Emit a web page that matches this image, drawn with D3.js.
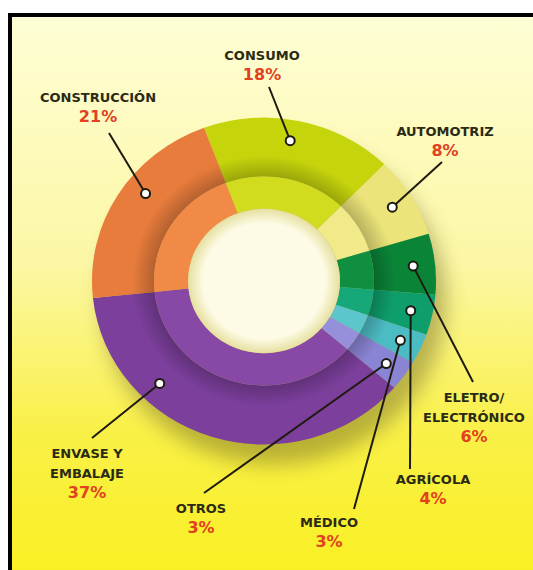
<!DOCTYPE html>
<html>
<head>
<meta charset="utf-8">
<script src="https://cdn.jsdelivr.net/npm/d3@7"></script>
<style>
  body { margin: 0; background: #fff; }
  svg { display: block; }
</style>
</head>
<body>
<script>
"use strict";

// data
var sectors = ["CONSUMO", "AUTOMOTRIZ", "ELETRO/ELECTRÓNICO", "AGRÍCOLA", "MÉDICO", "OTROS", "ENVASE Y EMBALAJE", "CONSTRUCCIÓN"];
var shares  = [18, 8, 6, 4, 3, 3, 37, 21];
var outerColors = ["#c6d40c", "#ece47a", "#0a8538", "#0e9e6c", "#4cbcc4", "#8a84d4", "#7c3f9c", "#e87c3c"];
var innerColors = ["#d2dc1e", "#f2ea88", "#108f40", "#16a878", "#5cc6cc", "#9690da", "#8848a6", "#f08a46"];

// label layout: name lines, text anchor (first baseline), start of leader line, where the dot sits in the slice
var labels = [
  { lines: ["CONSUMO"], x: 262, y: 60, lx: 269, ly: 87, frac: 0.47 },
  { lines: ["AUTOMOTRIZ"], x: 445, y: 136, lx: 442, ly: 162, frac: 0.5 },
  { lines: ["ELETRO/", "ELECTRÓNICO"], x: 474, y: 402, lx: 473, ly: 382, frac: 0.5 },
  { lines: ["AGRÍCOLA"], x: 433, y: 484, lx: 410, ly: 469, frac: 0.5 },
  { lines: ["MÉDICO"], x: 329, y: 527, lx: 354, ly: 509, frac: 0.5 },
  { lines: ["OTROS"], x: 201, y: 513, lx: 204, ly: 493, frac: 0.5 },
  { lines: ["ENVASE Y", "EMBALAJE"], x: 87, y: 458, lx: 92, ly: 438, frac: 0.7 },
  { lines: ["CONSTRUCCIÓN"], x: 98, y: 102, lx: 109, ly: 133, frac: 0.58 }
];

var width = 533, height = 570;
var cx = 264, cy = 281, squash = 0.95;
var rHole = 76, rMid = 110, rOuter = 172, rDot = 150;
var startAngle = -20.4 * Math.PI / 180;

var svg = d3.select("body").append("svg")
    .attr("width", width)
    .attr("height", height);

var defs = svg.append("defs");

var bg = defs.append("linearGradient")
    .attr("id", "bg")
    .attr("x1", 0).attr("y1", 0).attr("x2", 0).attr("y2", 1);
bg.append("stop").attr("offset", "0%").attr("stop-color", "#fefed6");
bg.append("stop").attr("offset", "45%").attr("stop-color", "#fcf7a4");
bg.append("stop").attr("offset", "75%").attr("stop-color", "#f9f048");
bg.append("stop").attr("offset", "100%").attr("stop-color", "#f9f024");

defs.append("filter")
    .attr("id", "blur")
    .attr("x", "-30%").attr("y", "-30%").attr("width", "160%").attr("height", "160%")
  .append("feGaussianBlur")
    .attr("stdDeviation", 10);

// darker edge near the inner side of the outer band
var ringShade = defs.append("radialGradient")
    .attr("id", "ringShade")
    .attr("gradientUnits", "userSpaceOnUse")
    .attr("cx", 0).attr("cy", 0).attr("r", rOuter);
ringShade.append("stop").attr("offset", rMid / rOuter).attr("stop-color", "#000").attr("stop-opacity", 0.22);
ringShade.append("stop").attr("offset", (rMid + 22) / rOuter).attr("stop-color", "#000").attr("stop-opacity", 0);
ringShade.append("stop").attr("offset", "100%").attr("stop-color", "#000").attr("stop-opacity", 0);

var holeShade = defs.append("radialGradient")
    .attr("id", "holeShade")
    .attr("gradientUnits", "userSpaceOnUse")
    .attr("cx", 0).attr("cy", 0).attr("r", rHole);
holeShade.append("stop").attr("offset", "80%").attr("stop-color", "#fdfbe6").attr("stop-opacity", 1);
holeShade.append("stop").attr("offset", "100%").attr("stop-color", "#e6e0a0").attr("stop-opacity", 1);

// frame: yellow panel with black line at top and left
svg.append("rect")
    .attr("x", 10).attr("y", 15)
    .attr("width", width - 10).attr("height", height - 15)
    .attr("fill", "url(#bg)");
svg.append("path")
    .attr("d", "M10," + height + "V15H" + width)
    .attr("fill", "none")
    .attr("stroke", "#000")
    .attr("stroke-width", 4);

var pie = d3.pie()
    .sort(null)
    .value(function (d) { return d; })
    .startAngle(startAngle)
    .endAngle(startAngle + 2 * Math.PI);

var arcs = pie(shares);

var outerArc = d3.arc().innerRadius(rMid).outerRadius(rOuter);
var innerArc = d3.arc().innerRadius(rHole).outerRadius(rMid);

// soft shadow under the ring
svg.append("ellipse")
    .attr("cx", cx + 10).attr("cy", cy + 20)
    .attr("rx", rOuter).attr("ry", rOuter * squash)
    .attr("fill", "#6a6420")
    .attr("opacity", 0.45)
    .attr("filter", "url(#blur)");

var donut = svg.append("g")
    .attr("transform", "translate(" + cx + "," + cy + ") scale(1," + squash + ")");

donut.selectAll("path.outer")
    .data(arcs)
    .enter()
    .append("path")
      .attr("class", "outer")
      .attr("d", outerArc)
      .attr("fill", function (d, i) { return outerColors[i]; });

donut.append("path")
    .attr("d", d3.arc().innerRadius(rMid).outerRadius(rOuter).startAngle(0).endAngle(2 * Math.PI)())
    .attr("fill", "url(#ringShade)");

donut.selectAll("path.inner")
    .data(arcs)
    .enter()
    .append("path")
      .attr("class", "inner")
      .attr("d", innerArc)
      .attr("fill", function (d, i) { return innerColors[i]; });

donut.append("circle")
    .attr("r", rHole)
    .attr("fill", "url(#holeShade)");

// leader lines and dots, placed on the slices
function dotPos(d, i) {
  var a = d.startAngle + (d.endAngle - d.startAngle) * labels[i].frac;
  return [cx + rDot * Math.sin(a), cy - rDot * Math.cos(a) * squash];
}

svg.selectAll("path.leader")
    .data(arcs)
    .enter()
    .append("path")
      .attr("class", "leader")
      .attr("d", function (d, i) {
        var p = dotPos(d, i), l = labels[i];
        return "M" + l.lx + "," + l.ly + "L" + p[0] + "," + p[1];
      })
      .attr("fill", "none")
      .attr("stroke", "#1e1a10")
      .attr("stroke-width", 2);

svg.selectAll("circle.dot")
    .data(arcs)
    .enter()
    .append("circle")
      .attr("class", "dot")
      .attr("cx", function (d, i) { return dotPos(d, i)[0]; })
      .attr("cy", function (d, i) { return dotPos(d, i)[1]; })
      .attr("r", 4.5)
      .attr("fill", "#fff")
      .attr("stroke", "#1e1a10")
      .attr("stroke-width", 2);

// labels
var label = svg.selectAll("g.label")
    .data(sectors)
    .enter()
    .append("g")
      .attr("class", "label")
      .attr("transform", function (d, i) { return "translate(" + labels[i].x + "," + labels[i].y + ")"; });

label.each(function (d, i) {
  var g = d3.select(this);
  var lines = labels[i].lines;
  lines.forEach(function (t, j) {
    g.append("text")
      .attr("y", j * 20)
      .attr("text-anchor", "middle")
      .style("font-family", "'DejaVu Sans', sans-serif")
      .style("font-weight", "bold")
      .style("font-size", "13px")
      .style("fill", "#2b2a14")
      .text(t);
  });
  g.append("text")
    .attr("y", (lines.length - 1) * 20 + 20)
    .attr("text-anchor", "middle")
    .style("font-family", "'DejaVu Sans', sans-serif")
    .style("font-weight", "bold")
    .style("font-size", "16px")
    .style("fill", "#e2401e")
    .text(shares[i] + "%");
});
</script>
</body>
</html>
